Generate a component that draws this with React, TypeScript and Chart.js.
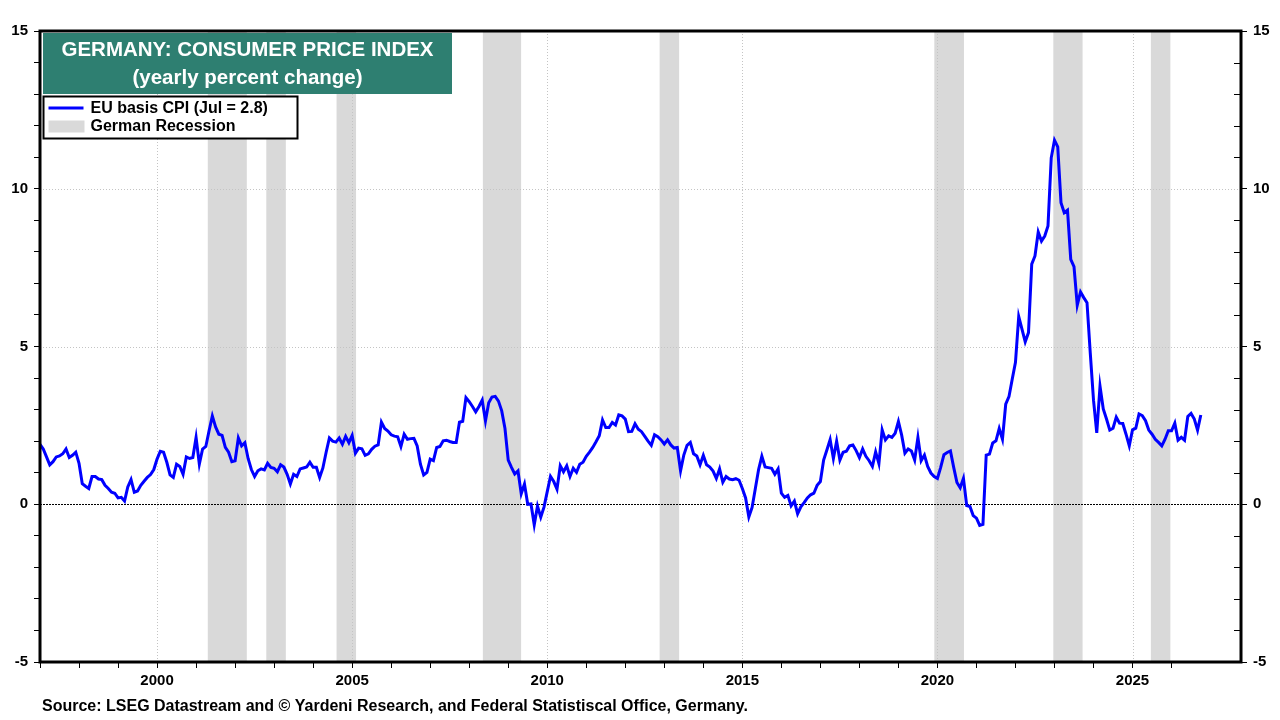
import React, { useEffect, useRef } from "react";
import { Chart, registerables } from "chart.js";

Chart.register(...registerables);

// ---------- text ----------
const TITLE_LINE_1 = "GERMANY: CONSUMER PRICE INDEX";
const TITLE_LINE_2 = "(yearly percent change)";
const SERIES_LABEL = "EU basis CPI (Jul = 2.8)";
const RECESSION_LABEL = "German Recession";
const SOURCE_TEXT =
  "Source: LSEG Datastream and \u00A9 Yardeni Research, and Federal Statistiscal Office, Germany.";

// ---------- axes ----------
const START_YEAR = 1997; // first monthly observation (January)
const X_MIN = 1997;
const X_MAX = 2027.78;
const Y_MIN = -5;
const Y_MAX = 15;
const Y_LABEL_STEP = 5;
const X_LABEL_STEP = 5;

// ---------- monthly yearly % change ----------
const cpi1997to2001 = [
  1.9, 1.75, 1.5, 1.25, 1.35, 1.5, 1.53, 1.6, 1.75, 1.48, 1.55, 1.65,
  1.3, 0.65, 0.57, 0.5, 0.88, 0.88, 0.8, 0.78, 0.6, 0.5, 0.38, 0.35,
  0.2, 0.22, 0.1, 0.55, 0.78, 0.38, 0.42, 0.6, 0.73, 0.85, 0.94, 1.1,
  1.43, 1.68, 1.65, 1.33, 0.93, 0.85, 1.27, 1.2, 0.95, 1.5, 1.45, 1.48,
  2.12, 1.27, 1.75, 1.83, 2.33, 2.8, 2.45, 2.22, 2.18, 1.8, 1.65, 1.35,
];
const cpi2002to2006 = [
  1.38, 2.1, 1.85, 1.95, 1.45, 1.1, 0.88, 1.06, 1.12, 1.09, 1.3, 1.17,
  1.14, 1.03, 1.25, 1.18, 0.95, 0.64, 0.95, 0.88, 1.12, 1.15, 1.18, 1.33,
  1.17, 1.17, 0.85, 1.15, 1.65, 2.1, 2.0, 1.97, 2.1, 1.9, 2.15, 1.95,
  2.18, 1.62, 1.78, 1.76, 1.55, 1.6, 1.74, 1.84, 1.88, 2.6, 2.4, 2.32,
  2.2, 2.16, 2.14, 1.83, 2.22, 2.06, 2.08, 2.09, 1.85, 1.27, 0.93, 1.01,
];
const cpi2007to2011 = [
  1.43, 1.38, 1.8, 1.83, 2.01, 2.03, 1.99, 1.96, 1.96, 2.6, 2.63, 3.38,
  3.25, 3.1, 2.93, 3.1, 3.3, 2.64, 3.22, 3.4, 3.42, 3.27, 2.96, 2.4,
  1.4, 1.17, 0.96, 1.06, 0.33, 0.64, 0.0, 0.01, -0.65, -0.06, -0.41, -0.09,
  0.4, 0.88, 0.72, 0.48, 1.22, 1.03, 1.22, 0.88, 1.14, 1.01, 1.27, 1.33,
  1.52, 1.65, 1.8, 1.98, 2.17, 2.67, 2.43, 2.43, 2.59, 2.51, 2.83, 2.8,
];
const cpi2012to2016 = [
  2.7, 2.3, 2.31, 2.55, 2.38, 2.3, 2.15, 2.0, 1.87, 2.2, 2.14, 2.04,
  1.91, 2.04, 1.88, 1.78, 1.8, 1.06, 1.56, 1.87, 1.96, 1.6, 1.53, 1.25,
  1.55, 1.25, 1.18, 1.05, 0.82, 1.12, 0.7, 0.88, 0.8, 0.78, 0.81, 0.76,
  0.5, 0.2, -0.4, -0.1, 0.5, 1.1, 1.52, 1.18, 1.16, 1.14, 0.95, 1.12,
  0.35, 0.22, 0.28, -0.05, 0.1, -0.3, -0.08, 0.05, 0.2, 0.3, 0.35, 0.6,
];
const cpi2017to2021 = [
  0.72, 1.4, 1.72, 2.05, 1.45, 2.0, 1.4, 1.65, 1.68, 1.85, 1.88, 1.7,
  1.48, 1.75, 1.52, 1.38, 1.2, 1.66, 1.29, 2.36, 2.04, 2.17, 2.12, 2.25,
  2.62, 2.19, 1.62, 1.75, 1.69, 1.4, 2.12, 1.38, 1.56, 1.2, 0.99, 0.88,
  0.82, 1.17, 1.57, 1.64, 1.69, 1.17, 0.69, 0.52, 0.82, -0.04, -0.07, -0.36,
  -0.44, -0.67, -0.64, 1.56, 1.59, 1.94, 2.01, 2.4, 2.06, 3.17, 3.41, 3.96,
];
const cpi2022to2026 = [
  4.5, 5.95, 5.55, 5.15, 5.44, 7.61, 7.87, 8.63, 8.34, 8.5, 8.82, 10.98,
  11.54, 11.33, 9.56, 9.24, 9.32, 7.76, 7.53, 6.31, 6.73, 6.55, 6.39, 4.8,
  3.3, 2.26, 3.74, 3.02, 2.7, 2.35, 2.41, 2.76, 2.57, 2.56, 2.22, 1.85,
  2.36, 2.41, 2.86, 2.81, 2.65, 2.35, 2.22, 2.06, 1.96, 1.85, 2.06, 2.33,
  2.33, 2.57, 2.03, 2.12, 2.03, 2.78, 2.88, 2.7, 2.35, 2.83,
];

// ---------- German recessions (decimal years) ----------
const recessionStart = [2001.3, 2002.8, 2004.6, 2008.35, 2012.88, 2019.92, 2022.97, 2025.47];
const recessionEnd = [2002.3, 2003.3, 2005.1, 2009.33, 2013.38, 2020.68, 2023.72, 2025.97];

const cpiValues = [
  ...cpi1997to2001,
  ...cpi2002to2006,
  ...cpi2007to2011,
  ...cpi2012to2016,
  ...cpi2017to2021,
  ...cpi2022to2026,
];

const FONT = "'Liberation Sans', Arial, sans-serif";
const LINE_BLUE = "#0000ff";
const BAND_GRAY = "#d9d9d9";
const TEAL = "#2e7f71";

const isMajorY = (v: number) => Math.abs(v % Y_LABEL_STEP) < 1e-6;

const decorPlugin = {
  id: "decor",
  beforeDatasetsDraw(chart: any) {
    const { ctx, chartArea: a, scales } = chart;
    const x = scales.x;
    const y = scales.y;
    ctx.save();
    // recession bands
    ctx.fillStyle = BAND_GRAY;
    recessionStart.forEach((s, i) => {
      const x0 = x.getPixelForValue(s);
      const x1 = x.getPixelForValue(recessionEnd[i]);
      ctx.fillRect(x0, a.top, x1 - x0, a.bottom - a.top);
    });
    // dotted grid
    ctx.strokeStyle = "#c4c4c4";
    ctx.lineWidth = 1;
    ctx.setLineDash([1, 2]);
    for (let v = Y_MIN + Y_LABEL_STEP; v < Y_MAX; v += Y_LABEL_STEP) {
      if (v === 0) continue;
      const py = Math.round(y.getPixelForValue(v)) + 0.5;
      ctx.beginPath();
      ctx.moveTo(a.left, py);
      ctx.lineTo(a.right, py);
      ctx.stroke();
    }
    x.ticks.forEach((t: any) => {
      const v = Math.round(t.value);
      if (v % X_LABEL_STEP !== 0) return;
      const px = Math.round(x.getPixelForValue(v)) + 0.5;
      ctx.beginPath();
      ctx.moveTo(px, a.top);
      ctx.lineTo(px, a.bottom);
      ctx.stroke();
    });
    // zero line
    ctx.setLineDash([2, 1]);
    ctx.strokeStyle = "#000";
    const pz = Math.round(y.getPixelForValue(0)) + 0.5;
    ctx.beginPath();
    ctx.moveTo(a.left, pz);
    ctx.lineTo(a.right, pz);
    ctx.stroke();
    ctx.restore();
  },
  afterDatasetsDraw(chart: any) {
    const { ctx, chartArea: a, scales } = chart;
    ctx.save();
    // minor ticks on the inside of the right axis
    ctx.strokeStyle = "#000";
    ctx.lineWidth = 1;
    scales.y2.ticks.forEach((t: any) => {
      if (isMajorY(t.value)) return;
      const py = Math.round(scales.y2.getPixelForValue(t.value)) + 0.5;
      ctx.beginPath();
      ctx.moveTo(a.right - 7, py);
      ctx.lineTo(a.right, py);
      ctx.stroke();
    });
    ctx.lineWidth = 3;
    ctx.strokeRect(a.left, a.top, a.right - a.left, a.bottom - a.top);
    ctx.restore();
  },
  afterDraw(chart: any) {
    const { ctx, chartArea: a } = chart;
    ctx.save();
    // title box
    const bx = a.left + 3;
    const by = a.top + 2;
    const bw = 409;
    const bh = 61;
    ctx.fillStyle = TEAL;
    ctx.fillRect(bx, by, bw, bh);
    ctx.fillStyle = "#ffffff";
    ctx.font = `bold 20.5px ${FONT}`;
    ctx.textAlign = "center";
    ctx.textBaseline = "middle";
    ctx.fillText(TITLE_LINE_1, bx + bw / 2, by + 17);
    ctx.fillText(TITLE_LINE_2, bx + bw / 2, by + 45);

    // legend box
    const lx = a.left + 3.5;
    const ly = by + bh + 2.5;
    const lw = 254;
    const lh = 42;
    ctx.fillStyle = "#ffffff";
    ctx.fillRect(lx, ly, lw, lh);
    ctx.strokeStyle = "#000";
    ctx.lineWidth = 2;
    ctx.strokeRect(lx, ly, lw, lh);
    ctx.strokeStyle = LINE_BLUE;
    ctx.lineWidth = 3;
    ctx.beginPath();
    ctx.moveTo(lx + 5, ly + 11.5);
    ctx.lineTo(lx + 40, ly + 11.5);
    ctx.stroke();
    ctx.fillStyle = BAND_GRAY;
    ctx.fillRect(lx + 5, ly + 24, 36, 12);
    ctx.fillStyle = "#000";
    ctx.font = `bold 16px ${FONT}`;
    ctx.textAlign = "left";
    ctx.fillText(SERIES_LABEL, lx + 47, ly + 12);
    ctx.fillText(RECESSION_LABEL, lx + 47, ly + 30);

    // source
    ctx.font = `bold 16px ${FONT}`;
    ctx.fillText(SOURCE_TEXT, 42, 706.5);
    ctx.restore();
  },
};

export default function App() {
  const canvasRef = useRef<HTMLCanvasElement | null>(null);

  useEffect(() => {
    const canvas = canvasRef.current;
    if (!canvas) return;
    const points = cpiValues.map((v, i) => ({ x: START_YEAR + i / 12, y: v }));
    const tickFont = { family: FONT, weight: "bold" as const, size: 15 };
    const yCallback = (v: any) => (isMajorY(Number(v)) ? String(v) : "");

    const chart = new Chart(canvas, {
      type: "line",
      data: {
        datasets: [
          {
            label: SERIES_LABEL,
            data: points,
            borderColor: LINE_BLUE,
            borderWidth: 3,
            pointRadius: 0,
            tension: 0,
            fill: false,
          },
        ],
      },
      options: {
        animation: false,
        responsive: false,
        devicePixelRatio: 1,
        layout: { padding: { top: 31, left: 0, right: 0, bottom: 0 } },
        plugins: { legend: { display: false }, tooltip: { enabled: false } },
        scales: {
          x: {
            type: "linear",
            position: "bottom",
            min: X_MIN,
            max: X_MAX,
            afterBuildTicks: (s: any) => {
              s.ticks = s.ticks.filter((t: any) => Math.abs(t.value - Math.round(t.value)) < 1e-6);
            },
            afterFit: (s: any) => {
              s.height = 58;
            },
            ticks: {
              stepSize: 1,
              autoSkip: false,
              maxRotation: 0,
              padding: 4,
              color: "#000",
              font: tickFont,
              callback: (v: any) => {
                const n = Math.round(Number(v));
                return n % X_LABEL_STEP === 0 ? String(n) : "";
              },
            },
            grid: { drawOnChartArea: false, drawTicks: true, tickLength: 6, tickColor: "#000", tickWidth: 1 },
            border: { display: false },
          },
          y: {
            type: "linear",
            position: "left",
            min: Y_MIN,
            max: Y_MAX,
            afterFit: (s: any) => {
              s.width = 40;
            },
            ticks: {
              stepSize: 1,
              autoSkip: false,
              padding: 6,
              color: "#000",
              font: tickFont,
              callback: yCallback,
            },
            grid: { drawOnChartArea: false, drawTicks: true, tickLength: 6, tickColor: "#000", tickWidth: 1 },
            border: { display: false },
          },
          y2: {
            type: "linear",
            position: "right",
            min: Y_MIN,
            max: Y_MAX,
            afterFit: (s: any) => {
              s.width = 39;
            },
            ticks: {
              stepSize: 1,
              autoSkip: false,
              padding: 6,
              color: "#000",
              font: tickFont,
              callback: yCallback,
            },
            grid: {
              drawOnChartArea: false,
              drawTicks: true,
              tickLength: 6,
              tickColor: (c: any) => (c.tick && isMajorY(c.tick.value) ? "#000" : "rgba(0,0,0,0)"),
              tickWidth: 1,
            },
            border: { display: false },
          },
        },
      },
      plugins: [decorPlugin],
    });
    return () => chart.destroy();
  }, []);

  return (
    <div style={{ position: "absolute", left: 0, top: 0, width: 1280, height: 720, background: "#fff" }}>
      <canvas ref={canvasRef} width={1280} height={720} style={{ width: 1280, height: 720, display: "block" }} />
    </div>
  );
}
